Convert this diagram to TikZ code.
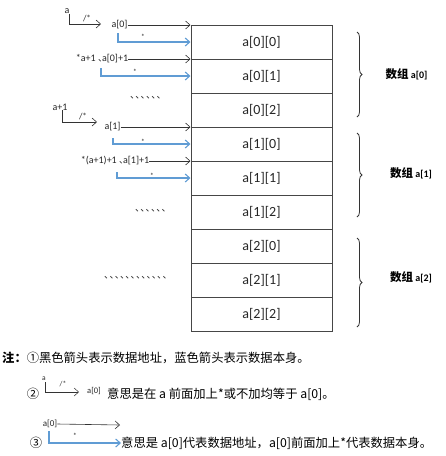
\documentclass[tikz,border=0pt]{standalone}
\usepackage{fontspec}
\setmainfont{Carlito}
\newfontfamily\cjk{Noto Sans CJK SC}
\usetikzlibrary{arrows.meta,decorations.pathreplacing}
\definecolor{blu}{RGB}{96,156,212}
\definecolor{gry}{RGB}{70,70,70}
\newcommand\tk{、\kern-4.2pt}
\begin{document}
\begin{tikzpicture}[x=1pt,y=-1pt,
  cell/.style={draw=gry, line width=1pt, minimum width=141pt, minimum height=34pt, inner sep=0pt, font=\fontsize{14}{16}\selectfont, text=black!85},
  lbl/.style={inner sep=0pt, font=\fontsize{10}{12}\selectfont, text=black!85},
  tiny/.style={inner sep=0pt, font=\fontsize{7.5}{9}\selectfont, text=black!85},
  slash/.style={inner sep=0pt, font=\fontsize{9}{10}\selectfont, text=black!85},
  ticks/.style={inner sep=0pt, font=\cjk\fontsize{9.5}{10}\selectfont, text=black!85},
  barb/.style={-{Straight Barb[length=4.5pt,width=8pt]}},
  blk/.style={barb, draw=black!80, line width=0.6pt},
  bla/.style={barb, draw=blu, line width=1.1pt},
  brc/.style={decorate, decoration={brace, amplitude=5pt}, draw=black!80, line width=0.8pt},
  grp/.style={inner sep=0pt, font=\bfseries\fontsize{10}{12}\selectfont},
  note/.style={inner sep=0pt, anchor=west, font=\cjk\fontsize{12.3}{14}\selectfont}]
\useasboundingbox (0,0) rectangle (446,456);
% table
\foreach \r/\lab [count=\i from 0] in {00/a[0][0],01/a[0][1],02/a[0][2],10/a[1][0],11/a[1][1],12/a[1][2],20/a[2][0],21/a[2][1],22/a[2][2]}
  \node[cell] (c\r) at (261.5,42+34*\i) {\lab};
% group a[0]
\node[lbl] (ha) at (67,11) {a};
\node[lbl] (l00) at (119.5,25) {a[0]};
\coordinate (h0) at (101,24);
\draw[blk] (ha.south east) |- (h0);
\node[slash] (hs0) at (87,18) {/*};
\draw[blk] (l00.east) -- (l00.east -| c00.west);
\coordinate (b0) at (118,33);
\draw[bla] (b0) |- (c00.west);
\node[tiny] (s0) at (143,37) {*};
\node[lbl] (l01) at (102,59) {*a+1 {\cjk\fontsize{9}{10}\selectfont 、\kern-5pt}a[0]+1};
\draw[blk] (l01.east) -- (l01.east -| c01.west);
\coordinate (b1) at (101,68);
\draw[bla] (b1) |- (c01.west);
\node[tiny] (s1) at (135,72) {*};
\node[ticks] (d1) at (146,98) {\tk\tk\tk\tk\tk\tk};
% group a[1]
\node[lbl] (ha1) at (60,107) {a+1};
\coordinate (h1) at (97,122);
\draw[blk] (ha1.south) ++(2,0) coordinate (hv1) (hv1) |- (h1);
\node[slash] (hs1) at (83,116) {/*};
\node[lbl] (l10) at (112.5,127) {a[1]};
\draw[blk] (l10.east) -- (l10.east -| c10.west);
\coordinate (b2) at (113,138);
\draw[bla] (b2) |- (c10.west);
\node[tiny] (s2) at (143,142) {*};
\node[lbl] (l11) at (115,161) {*(a+1)+1 {\cjk\fontsize{9}{10}\selectfont 、\kern-5pt}a[1]+1};
\draw[blk] (l11.east) -- (l11.east -| c11.west);
\coordinate (b3) at (117,172);
\draw[bla] (b3) |- (c11.west);
\node[tiny] (s3) at (152,176) {*};
\node[ticks] (d2) at (151,211) {\tk\tk\tk\tk\tk\tk};
% group a[2]
\node[ticks] (d3) at (136,278) {\tk\tk\tk\tk\tk\tk\tk\tk\tk\tk\tk\tk};
% braces
\coordinate (t0) at (357,32); \coordinate (u0) at (357,117);
\coordinate (t1) at (357,133); \coordinate (u1) at (357,217);
\coordinate (t2) at (357,238); \coordinate (u2) at (357,327);
\draw[brc] (t0) -- (u0);
\draw[brc] (t1) -- (u1);
\draw[brc] (t2) -- (u2);
\node[grp] (g0) at (406.5,74) {{\cjk\fontsize{11.5}{12}\selectfont 数组} a[0]};
\node[grp] (g1) at (411,173) {{\cjk\fontsize{11.5}{12}\selectfont 数组} a[1]};
\node[grp] (g2) at (411,277) {{\cjk\fontsize{11.5}{12}\selectfont 数组} a[2]};
% notes
\node[note] (n1) at (2,358) {{\bfseries 注：}①黑色箭头表示数据地址，蓝色箭头表示数据本身。};
\node[note, anchor=center] (c2) at (33,394) {②};
\node[tiny] (ha2) at (44,379) {a};
\coordinate (h2) at (79,392);
\draw[blk, line width=0.5pt] (ha2.south) ++(1,1) coordinate (hv2) (hv2) |- (h2);
\node[tiny] (hs2) at (63,384) {/*};
\node[tiny, font=\fontsize{8.5}{10}\selectfont] (l2) at (94,391) {a[0]};
\node[note] (n2) at (107,394) {意思是在 a 前面加上*或不加均等于 a[0]。};
\node[lbl, font=\fontsize{9}{11}\selectfont] (l3) at (50,424) {a[0]};
\node[note, anchor=center] (c3) at (36,443) {③};
\node[note] (n3) at (121,443) {意思是 a[0]代表数据地址，a[0]前面加上*代表数据本身。};
\coordinate (e3) at (120,425);
\draw[blk] (l3.east) -- (e3);
\coordinate (b4) at (49,431);
\draw[bla] (b4) |- (n3.west);
\node[tiny] (s4) at (75,436) {*};
\end{tikzpicture}
\end{document}
